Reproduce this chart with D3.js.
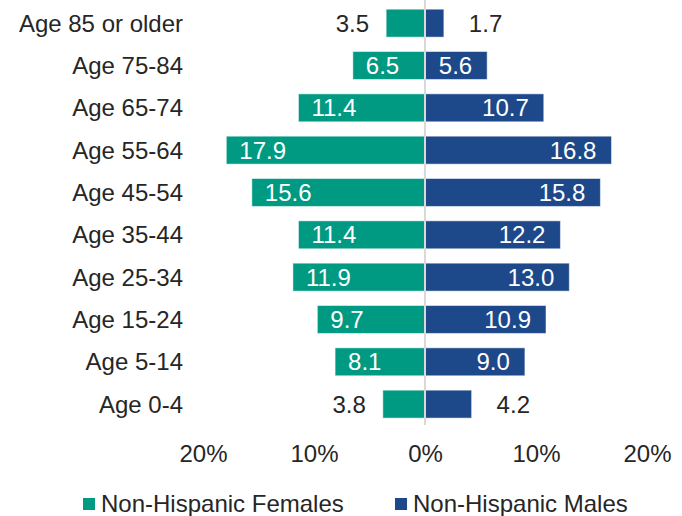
<!DOCTYPE html>
<html>
<head>
<meta charset="utf-8">
<script src="https://cdn.jsdelivr.net/npm/d3@7"></script>
<style>
  body { margin: 0; background: #fff; }
  svg { display: block; font-family: "Liberation Sans", Arial, sans-serif; }
</style>
</head>
<body>
<svg id="chart" width="682" height="516"></svg>
<script>
var ages = ["Age 85 or older", "Age 75-84", "Age 65-74", "Age 55-64", "Age 45-54",
            "Age 35-44", "Age 25-34", "Age 15-24", "Age 5-14", "Age 0-4"];
var females = [3.5, 6.5, 11.4, 17.9, 15.6, 11.4, 11.9, 9.7, 8.1, 3.8];
var males = [1.7, 5.6, 10.7, 16.8, 15.8, 12.2, 13.0, 10.9, 9.0, 4.2];
var tickVals = [-20, -10, 0, 10, 20];
var seriesNames = ["Non-Hispanic Females", "Non-Hispanic Males"];

var teal = "#009a82", navy = "#1d4889", textCol = "#262626", fs = "24px";

var svg = d3.select("#chart");

var x = d3.scaleLinear().domain([-20, 20]).range([203, 647]);
var y = d3.scaleBand().domain(ages).range([2, 425.3]).paddingInner(0.34).paddingOuter(0.17);
var bh = y.bandwidth();

var rows = ages.map(function (a, i) { return {age: a, f: females[i], m: males[i]}; });

// female bars
svg.append("g").selectAll("rect").data(rows).enter().append("rect")
    .attr("x", function (d) { return x(-d.f); })
    .attr("y", function (d) { return y(d.age); })
    .attr("width", function (d) { return x(0) - x(-d.f); })
    .attr("height", bh)
    .attr("fill", teal)
    .attr("stroke", "#fff").attr("stroke-opacity", 0.5).attr("stroke-width", 1);

// male bars
svg.append("g").selectAll("rect").data(rows).enter().append("rect")
    .attr("x", x(0))
    .attr("y", function (d) { return y(d.age); })
    .attr("width", function (d) { return x(d.m) - x(0); })
    .attr("height", bh)
    .attr("fill", navy)
    .attr("stroke", "#fff").attr("stroke-opacity", 0.5).attr("stroke-width", 1);

// center line
svg.append("line")
    .attr("x1", x(0)).attr("x2", x(0))
    .attr("y1", 0).attr("y2", 425)
    .attr("stroke", "#d9d9d9").attr("stroke-width", 2);

// value labels
svg.append("g").selectAll("text").data(rows).enter().append("text")
    .attr("x", function (d) { return d.f >= 5 ? x(-d.f) + 13 : x(-d.f) - 17; })
    .attr("y", function (d) { return y(d.age) + bh / 2; })
    .attr("dy", "0.35em")
    .attr("text-anchor", function (d) { return d.f >= 5 ? "start" : "end"; })
    .attr("fill", function (d) { return d.f >= 5 ? "#fff" : textCol; })
    .style("font-size", fs)
    .text(function (d) { return d.f.toFixed(1); });

svg.append("g").selectAll("text").data(rows).enter().append("text")
    .attr("x", function (d) { return d.m >= 5 ? x(d.m) - 15 : x(d.m) + 25; })
    .attr("y", function (d) { return y(d.age) + bh / 2; })
    .attr("dy", "0.35em")
    .attr("text-anchor", function (d) { return d.m >= 5 ? "end" : "start"; })
    .attr("fill", function (d) { return d.m >= 5 ? "#fff" : textCol; })
    .style("font-size", fs)
    .text(function (d) { return d.m.toFixed(1); });

// category labels
svg.append("g").selectAll("text").data(ages).enter().append("text")
    .attr("x", 183)
    .attr("y", function (d) { return y(d) + bh / 2; })
    .attr("dy", "0.35em")
    .attr("text-anchor", "end")
    .attr("fill", textCol)
    .style("font-size", fs)
    .text(function (d) { return d; });

// x axis
var xAxis = svg.append("g")
    .attr("transform", "translate(0,442)")
    .call(d3.axisBottom(x).tickValues(tickVals).tickSize(0).tickPadding(3)
        .tickFormat(function (d) { return Math.abs(d) + "%"; }));
xAxis.select(".domain").remove();
xAxis.selectAll("text").attr("fill", textCol).style("font-size", fs)
    .style("font-family", "'Liberation Sans', Arial, sans-serif");

// legend
var legX = [83, 395], legCol = [teal, navy];
var leg = svg.append("g").selectAll("g").data(seriesNames).enter().append("g")
    .attr("transform", function (d, i) { return "translate(" + legX[i] + ",498)"; });
leg.append("rect").attr("width", 12).attr("height", 12)
    .attr("fill", function (d, i) { return legCol[i]; });
leg.append("text")
    .attr("x", 18).attr("y", 6).attr("dy", "0.35em")
    .attr("fill", textCol)
    .style("font-size", fs)
    .text(function (d) { return d; });
</script>
</body>
</html>
